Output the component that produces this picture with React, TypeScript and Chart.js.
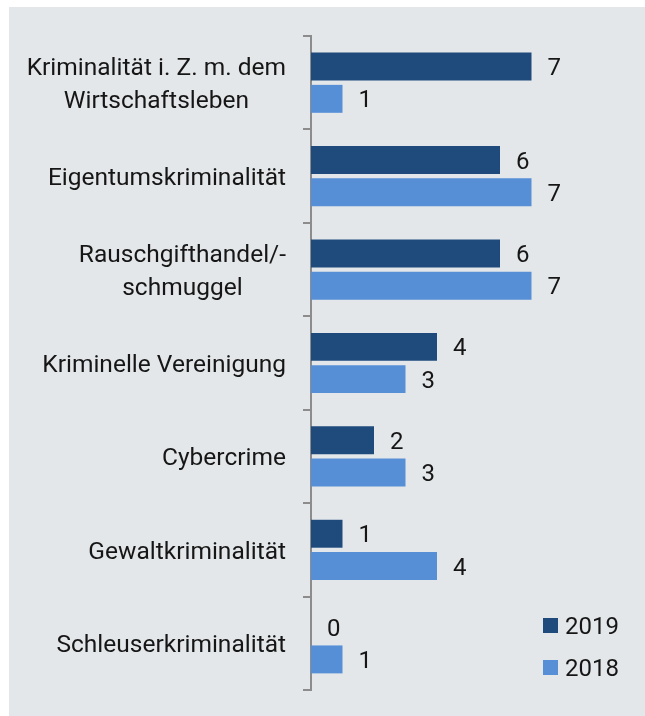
import React, { useEffect, useRef } from "react";
import { Chart, registerables } from "chart.js";

Chart.register(...registerables);

// ---- data ----
const categories: string[][] = [
  ["Kriminalität i. Z. m. dem", "Wirtschaftsleben"],
  ["Eigentumskriminalität"],
  ["Rauschgifthandel/-", "schmuggel"],
  ["Kriminelle Vereinigung"],
  ["Cybercrime"],
  ["Gewaltkriminalität"],
  ["Schleuserkriminalität"],
];
const seriesNames = ["2019", "2018"];
const values2019 = [7, 6, 6, 4, 2, 1, 0];
const values2018 = [1, 7, 7, 3, 3, 4, 1];

// ---- styles ----
const BG = "#e4e7e9";
const C2019 = "#1f4a7c";
const C2018 = "#568fd6";
const AXIS = "#8c8c8c";
const TEXT = "#161616";
const FONT = "Roboto, 'Noto Sans', sans-serif";
const CAP = 0.711;

const textPlugin = {
  id: "customText",
  afterDatasetsDraw(chart: any) {
    const ctx = chart.ctx as CanvasRenderingContext2D;
    const yScale = chart.scales.y;
    const area = chart.chartArea;
    ctx.save();
    ctx.fillStyle = TEXT;
    ctx.textBaseline = "alphabetic";

    // category labels: block right-aligned, lines centered within block
    const size = 24.5;
    const lh = 32.7;
    ctx.font = `400 ${size}px ${FONT}`;
    ctx.textAlign = "center";
    const rightEdge = area.left - 25;
    categories.forEach((lines, i) => {
      const yc = yScale.getPixelForTick(i);
      const maxW = Math.max(...lines.map((l) => ctx.measureText(l).width));
      const cx = rightEdge - maxW / 2;
      const n = lines.length;
      lines.forEach((line, j) => {
        const y = yc + (j - (n - 1) / 2) * lh + (CAP * size) / 2;
        ctx.fillText(line, cx, y);
      });
    });

    // value labels
    const vs = 24;
    ctx.font = `400 ${vs}px ${FONT}`;
    ctx.textAlign = "left";
    chart.data.datasets.forEach((ds: any, di: number) => {
      const meta = chart.getDatasetMeta(di);
      meta.data.forEach((bar: any, i: number) => {
        ctx.fillText(String(ds.data[i]), bar.x + 16, bar.y + (CAP * vs) / 2);
      });
    });

    // legend
    const bx = area.right - 83;
    const by0 = area.bottom - 72;
    chart.data.datasets.forEach((ds: any, i: number) => {
      const by = by0 + i * 42;
      ctx.fillStyle = ds.backgroundColor;
      ctx.fillRect(bx, by, 15, 15);
      ctx.fillStyle = TEXT;
      ctx.fillText(ds.label, bx + 22, by + 7.5 + (CAP * vs) / 2);
    });
    ctx.restore();
  },
};

export default function App() {
  const ref = useRef<HTMLCanvasElement | null>(null);
  useEffect(() => {
    if (!ref.current) return;
    const chart = new Chart(ref.current, {
      type: "bar",
      data: {
        labels: categories.map((c) => c.join(" ")),
        datasets: [
          {
            label: seriesNames[0],
            data: values2019,
            backgroundColor: C2019,
            categoryPercentage: 0.69,
            barPercentage: 0.867,
          },
          {
            label: seriesNames[1],
            data: values2018,
            backgroundColor: C2018,
            categoryPercentage: 0.69,
            barPercentage: 0.867,
          },
        ],
      },
      options: {
        indexAxis: "y",
        animation: false,
        responsive: false,
        layout: { padding: { top: 29, bottom: 26, right: 19, left: 0 } },
        plugins: { legend: { display: false }, tooltip: { enabled: false } },
        scales: {
          x: { display: false, min: 0, max: 10 },
          y: {
            grid: {
              display: true,
              drawOnChartArea: false,
              drawTicks: true,
              tickLength: 8,
              color: AXIS,
              lineWidth: 2,
              offset: true,
            },
            border: { display: true, color: AXIS, width: 2 },
            ticks: { display: false },
            afterFit: (s: any) => {
              s.width = 302;
            },
          },
        },
      },
      plugins: [textPlugin],
    } as any);
    return () => chart.destroy();
  }, []);

  return (
    <div
      style={{
        position: "absolute",
        left: 9,
        top: 7,
        width: 636,
        height: 709,
        background: BG,
      }}
    >
      <canvas ref={ref} width={636} height={709} style={{ display: "block" }} />
    </div>
  );
}
